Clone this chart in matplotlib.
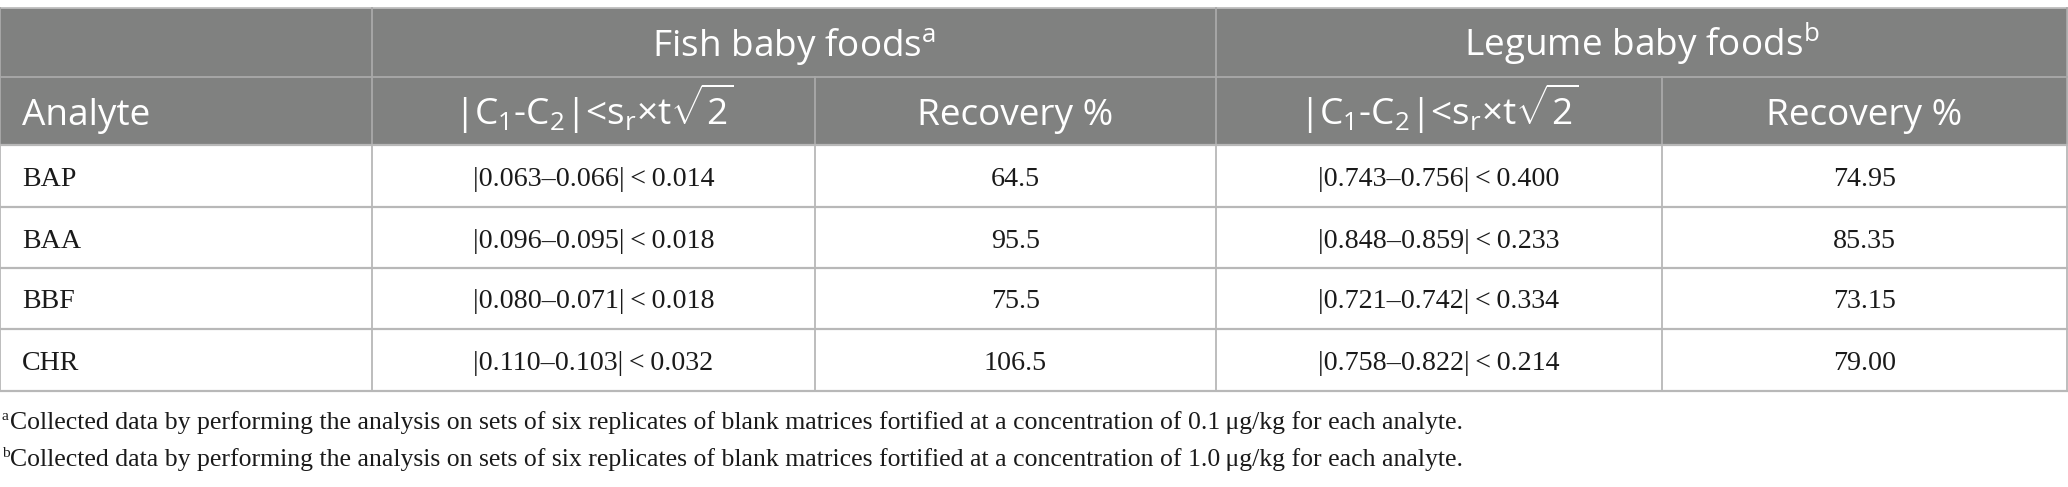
import matplotlib
matplotlib.use("Agg")
import matplotlib.pyplot as plt
from matplotlib.patches import Rectangle

# ---- data ----
group_labels = ["Fish baby foods", "Legume baby foods"]
group_marks = ["a", "b"]
formula = r"|C$_\mathregular{1}$-C$_\mathregular{2}$|<s$_\mathregular{r}$×t$\mathregular{\sqrt{2}}$"
col_headers = ["Analyte", formula, "Recovery %", formula, "Recovery %"]
analytes = ["BAP", "BAA", "BBF", "CHR"]
fish_test = ["|0.063–0.066|\u2009<\u20090.014",
             "|0.096–0.095|\u2009<\u20090.018",
             "|0.080–0.071|\u2009<\u20090.018",
             "|0.110–0.103|\u2009<\u20090.032"]
fish_recovery = ["64.5", "95.5", "75.5", "106.5"]
legume_test = ["|0.743–0.756|\u2009<\u20090.400",
               "|0.848–0.859|\u2009<\u20090.233",
               "|0.721–0.742|\u2009<\u20090.334",
               "|0.758–0.822|\u2009<\u20090.214"]
legume_recovery = ["74.95", "85.35", "73.15", "79.00"]
footnote_marks = ["a", "b"]
footnotes = [
    "Collected data by performing the analysis on sets of six replicates of blank matrices fortified at a concentration of 0.1\u2009μg/kg for each analyte.",
    "Collected data by performing the analysis on sets of six replicates of blank matrices fortified at a concentration of 1.0\u2009μg/kg for each analyte.",
]

# ---- layout ----
W, H = 2068, 487
col_x = [0, 372, 815, 1216, 1662, 2067]
top, split, hdr_bot = 8, 77, 145
row_y = [145, 207, 268, 329, 391]

HDR_BG = "#808180"
HDR_LINE = "#a9a9a9"
BODY_LINE = "#b8b8b8"
TXT = "#1a1a1a"

plt.rcParams["mathtext.fontset"] = "custom"
plt.rcParams["mathtext.rm"] = "Open Sans"
plt.rcParams["mathtext.it"] = "Open Sans"
plt.rcParams["mathtext.bf"] = "Open Sans"

fig = plt.figure(figsize=(W / 100, H / 100), dpi=100)
ax = fig.add_axes([0, 0, 1, 1])
ax.set_xlim(0, W)
ax.set_ylim(H, 0)
ax.axis("off")

def px2pt(px):
    return px * 72 / 100

HDR_FS = px2pt(37)
BODY_FS = px2pt(28)
FOOT_FS = px2pt(25.8)
hdr_font = "Open Sans"
body_font = "Liberation Serif"

# header background
ax.add_patch(Rectangle((0, top), col_x[-1], hdr_bot - top, facecolor=HDR_BG,
                       edgecolor="none", zorder=0))

# header lines
lw = 1.3
ax.plot([0, col_x[-1]], [top, top], color="#bdbdbd", lw=lw, zorder=2)
ax.plot([0, col_x[-1]], [split, split], color=HDR_LINE, lw=lw, zorder=2)
for x in [col_x[0], col_x[1], col_x[3], col_x[5]]:
    ax.plot([x, x], [top, hdr_bot], color=HDR_LINE, lw=lw, zorder=2)
for x in [col_x[2], col_x[4]]:
    ax.plot([x, x], [split, hdr_bot], color=HDR_LINE, lw=lw, zorder=2)

# body lines
for y in row_y:
    ax.plot([0, col_x[-1]], [y, y], color=BODY_LINE, lw=1.6, zorder=2)
for x in col_x:
    ax.plot([x, x], [hdr_bot, row_y[-1]], color=BODY_LINE, lw=1.3, zorder=2)

# header row 1
cap_h = 27
for i, (g, m) in enumerate(zip(group_labels, group_marks)):
    cx = (col_x[1 + 2 * i] + col_x[3 + 2 * i]) / 2
    ax.text(cx, (top + split) / 2 + cap_h / 2, g + r"$^{\mathregular{" + m + "}}$",
            ha="center", va="baseline", color="white", fontsize=HDR_FS,
            family=hdr_font)

# header row 2
yb = (split + hdr_bot) / 2 + cap_h / 2
ax.text(22, yb, col_headers[0], ha="left", va="baseline", color="white",
        fontsize=HDR_FS, family=hdr_font)
for j in range(1, 5):
    cx = (col_x[j] + col_x[j + 1]) / 2
    ax.text(cx, yb, col_headers[j], ha="center", va="baseline", color="white",
            fontsize=HDR_FS, family=hdr_font)

# body
columns = [fish_test, fish_recovery, legume_test, legume_recovery]
for r, name in enumerate(analytes):
    yb = (row_y[r] + row_y[r + 1]) / 2 + 10
    ax.text(22, yb, name, ha="left", va="baseline", color=TXT,
            fontsize=BODY_FS, family=body_font)
    for j, col in enumerate(columns):
        cx = (col_x[j + 1] + col_x[j + 2]) / 2
        ax.text(cx, yb, col[r], ha="center", va="baseline", color=TXT,
                fontsize=BODY_FS, family=body_font)

# footnotes
for k, (m, t) in enumerate(zip(footnote_marks, footnotes)):
    yb = 429 + 37 * k
    ax.text(2, yb - 9, m, ha="left", va="baseline", color=TXT,
            fontsize=FOOT_FS * 0.6, family=body_font)
    ax.text(10, yb, t, ha="left", va="baseline", color=TXT,
            fontsize=FOOT_FS, family=body_font)

fig.savefig("out.png", dpi=100, facecolor="white")
